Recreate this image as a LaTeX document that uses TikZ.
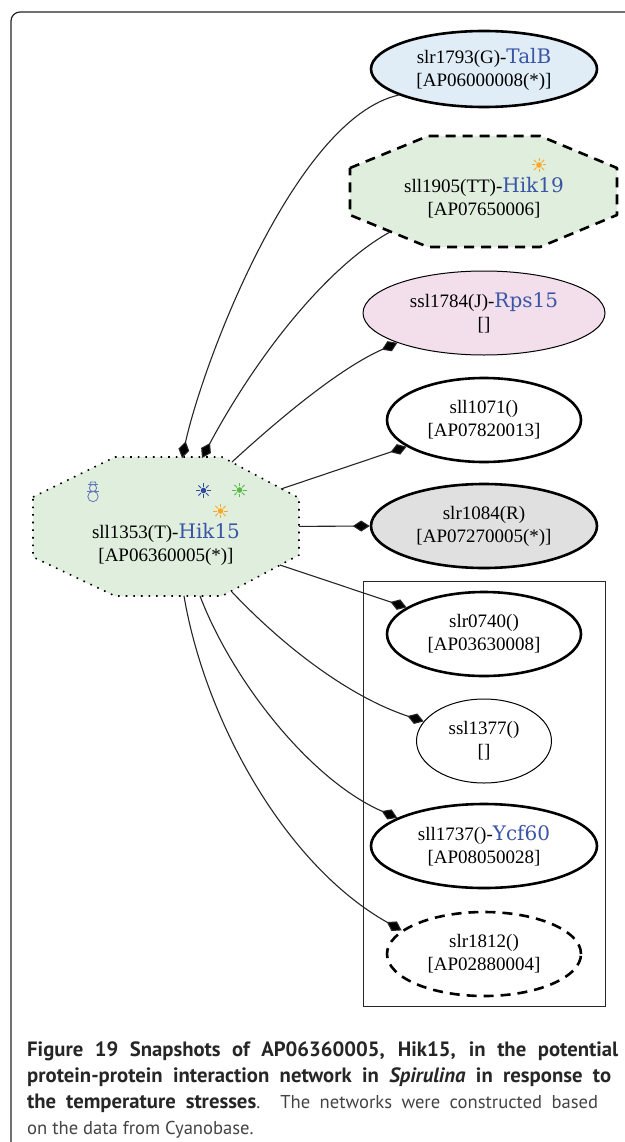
\documentclass[tikz,border=0pt]{standalone}
\usepackage{fontspec}
\setmainfont{Liberation Serif}
\newfontfamily\blueface{DejaVu Serif}
\newfontfamily\capface{PT Sans}
\usetikzlibrary{shapes.geometric,arrows.meta}
\definecolor{gfill}{HTML}{DFEEDD}
\definecolor{bfill}{HTML}{E0EDF7}
\definecolor{pfill}{HTML}{F3DFEC}
\definecolor{hfill}{HTML}{E0E0E0}
\definecolor{bluetxt}{HTML}{3A55A5}
\definecolor{sunO}{HTML}{F9A825}
\definecolor{sunG}{HTML}{5CB946}
\definecolor{sunB}{HTML}{2F4DA0}
\definecolor{capgray}{HTML}{444444}
\newcommand{\gname}[1]{{\blueface\fontsize{20}{23}\selectfont\color{bluetxt}#1}}
\newcommand{\sunicon}[3]{%
  \fill[#3] (#1,#2) circle (2.8pt);
  \foreach \a in {0,45,...,315}
    \draw[#3,line width=1pt] (#1,#2) ++(\a:3.6pt) -- ++(\a:3.6pt);
}
\tikzset{
  lbl/.style={font=\fontsize{19}{23}\selectfont,align=center,inner sep=0pt,text=black},
  gene/.style={ellipse,draw=black,lbl},
  thickb/.style={line width=2.6pt},
  thinb/.style={line width=1pt},
  link/.style={draw=black!85,line width=1.1pt},
  dtip/.style={-{Diamond[length=17pt,width=11pt,fill=black]}},
  octa/.style={fill=gfill,draw=black,line join=round},
}
\begin{document}
\begin{tikzpicture}[x=1pt,y=-1pt]
\useasboundingbox (0,0) rectangle (624,1142);
\fill[white] (0,0) rectangle (624,1142);
% frame
\draw[black!85,line width=1.2pt,rounded corners=9pt] (11,1142) -- (11,12) -- (640,12);
% cluster box
\node[draw=black!85,line width=1pt,minimum width=242pt,minimum height=425pt,inner sep=0pt] (cluster) at (484,793.5) {};
% octagons
\draw[octa,line width=1.6pt,dash pattern=on 1.6pt off 6pt] (33,497) -- (115,457) -- (222,457) -- (299,498) -- (299,555) -- (222,596) -- (115,596) -- (33,557) -- cycle;
\draw[octa,line width=2.6pt,dash pattern=on 10pt off 7pt] (350,168) -- (428,136) -- (540,136) -- (617,168) -- (617,215) -- (540,247) -- (428,247) -- (350,215) -- cycle;
\node[lbl] (hub) at (166,544) {sll1353(T)-\gname{Hik15}\\{}[AP06360005(*)]};
\node[lbl] (hik19) at (484,198) {sll1905(TT)-\gname{Hik19}\\{}[AP07650006]};
% points on the octagon borders
\coordinate (hubA) at (182,458);
\coordinate (hubB) at (202,458);
\coordinate (hubC) at (232,462);
\coordinate (hubD) at (281,489);
\coordinate (hubE) at (299,526.4);
\coordinate (hubF) at (280,565);
\coordinate (hubG) at (232,592);
\coordinate (hubH) at (200,596);
\coordinate (hubI) at (184,596);
\coordinate (hikS) at (390,232);
% ellipses
\node[gene,thickb,fill=bfill,minimum width=226pt,minimum height=76pt] (talb) at (484,69) {slr1793(G)-\gname{TalB}\\{}[AP06000008(*)]};
\node[gene,thinb,fill=pfill,minimum width=242pt,minimum height=84pt] (rps) at (484,313) {ssl1784(J)-\gname{Rps15}\\{}[]};
\node[gene,thickb,minimum width=194pt,minimum height=84pt] (n1071) at (484,420) {sll1071()\\{}[AP07820013]};
\node[gene,thickb,fill=hfill,minimum width=226pt,minimum height=84pt] (n1084) at (484,526) {slr1084(R)\\{}[AP07270005(*)]};
\node[gene,thickb,minimum width=194pt,minimum height=84pt] (n0740) at (484,634) {slr0740()\\{}[AP03630008]};
\node[gene,thinb,minimum width=135pt,minimum height=84pt] (n1377) at (484,741) {ssl1377()\\{}[]};
\node[gene,thickb,minimum width=226pt,minimum height=84pt] (n1737) at (484,846) {sll1737()-\gname{Ycf60}\\{}[AP08050028]};
\node[gene,thickb,dash pattern=on 10pt off 7pt,minimum width=194pt,minimum height=84pt] (n1812) at (484,954) {slr1812()\\{}[AP02880004]};
% connectors
\draw[link,dtip] (talb.197) .. controls (296,118) and (204,359) .. (hubA);
\draw[link,dtip] (hikS) .. controls (330,265) and (260,350) .. (hubB);
\draw[link,dtip] (hubC) .. controls (280,418) and (340,368) .. (rps.199);
\draw[link,dtip] (hubD) -- (n1071.199);
\draw[link,dtip] (hubE) -- (n1084.180);
\draw[link,dtip] (hubF) -- (n0740.161);
\draw[link,dtip] (hubG) .. controls (285,648) and (350,697) .. (n1377.162.7);
\draw[link,dtip] (hubH) .. controls (232,680) and (310,780) .. (n1737.162.5);
\draw[link,dtip] (hubI) .. controls (205,720) and (285,865) .. (n1812.164);
% icons
\sunicon{203.5}{490.5}{sunB}
\sunicon{239.5}{490}{sunG}
\sunicon{220.5}{511}{sunO}
\sunicon{539}{165}{sunO}
\begin{scope}[draw=bluetxt!80,line width=0.8pt]
\draw (93,488) circle (3.6pt);
\draw (93,496.5) circle (5.2pt);
\draw (88,484.5) -- (98,484.5);
\draw (90,484.5) -- (90.5,482) -- (95.5,482) -- (96,484.5);
\draw (87,491) -- (99,491);
\end{scope}
% caption
\node[inner sep=0pt,anchor=north west,align=left,font=\capface\fontsize{18.6}{26}\selectfont,text=capgray] (cap) at (27,1042) {%
\makebox[591pt][s]{\color{black!85}\fontsize{20.7}{26}\selectfont\bfseries Figure 19 Snapshots of AP06360005, Hik15, in the potential}\\
\makebox[584pt][s]{\color{black!85}\fontsize{20.7}{26}\selectfont\bfseries protein-protein interaction network in \textit{Spirulina} in response to}\\
\makebox[571pt][s]{{\color{black!85}\fontsize{20.7}{26}\selectfont\bfseries the temperature stresses}. The networks were constructed based}\\
on the data from Cyanobase.};
\end{tikzpicture}
\end{document}
